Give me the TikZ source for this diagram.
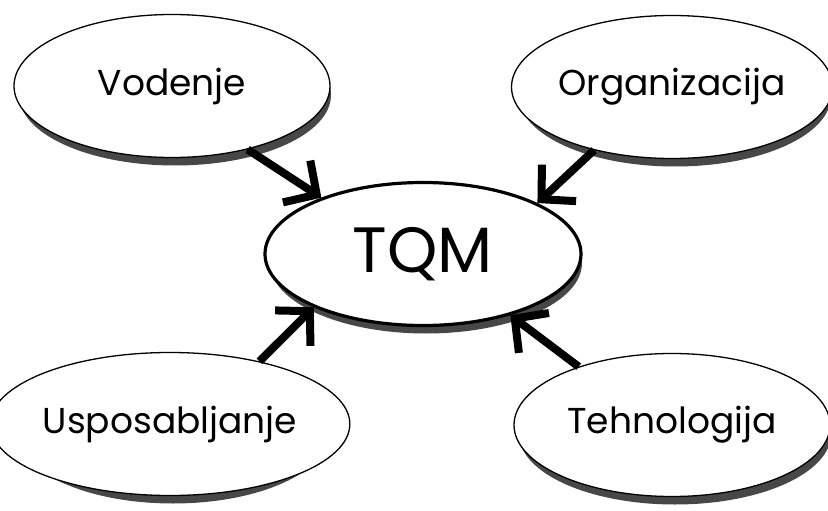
\documentclass[tikz,border=0pt]{standalone}
\usepackage{fontspec}
\setmainfont{Poppins}
\usetikzlibrary{shapes.geometric,arrows.meta}

\tikzset{
  bubble/.style={ellipse, draw=black, line width=1.3pt, fill=white,
    minimum width=316pt, minimum height=143pt, inner sep=0pt,
    font=\fontsize{36}{40}\selectfont},
  hub/.style={bubble, line width=3.2pt, font=\fontsize{64}{70}\selectfont},
  bubbleshadow/.style={ellipse, fill=black!72, draw=none,
    minimum width=312pt, minimum height=141pt, inner sep=0pt},
  feed/.style={line width=8pt,
    -{Straight Barb[length=24pt, width=50pt, line width=8pt]}}
}

\begin{document}
\begin{tikzpicture}[x=1pt, y=-1pt]
  \useasboundingbox (0,0) rectangle (828,511);
  \fill[white] (0,0) rectangle (828,511);

  % drop shadows under the lower arcs
  \node[bubbleshadow] at (175,95)  {};
  \node[bubbleshadow] at (675,96)  {};
  \node[bubbleshadow] at (426,263) {};
  \node[bubbleshadow] at (173,433) {};
  \node[bubbleshadow] at (675,434) {};

  % the five ellipses
  \node[bubble] (vod) at (172,86)  {Vodenje};
  \node[bubble] (org) at (672,87)  {Organizacija};
  \node[hub]    (tqm) at (423,254) {TQM};
  \node[bubble] (usp) at (170,424) {Usposabljanje};
  \node[bubble] (teh) at (672,425) {Tehnologija};

  % arrows into the hub
  \draw[feed] (vod.-40)  -- (tqm.151);
  \draw[feed] (org.-141) -- (tqm.24);
  \draw[feed] (usp.35)   -- (tqm.-154);
  \draw[feed] (teh.148)  -- (tqm.-35);
\end{tikzpicture}
\end{document}
